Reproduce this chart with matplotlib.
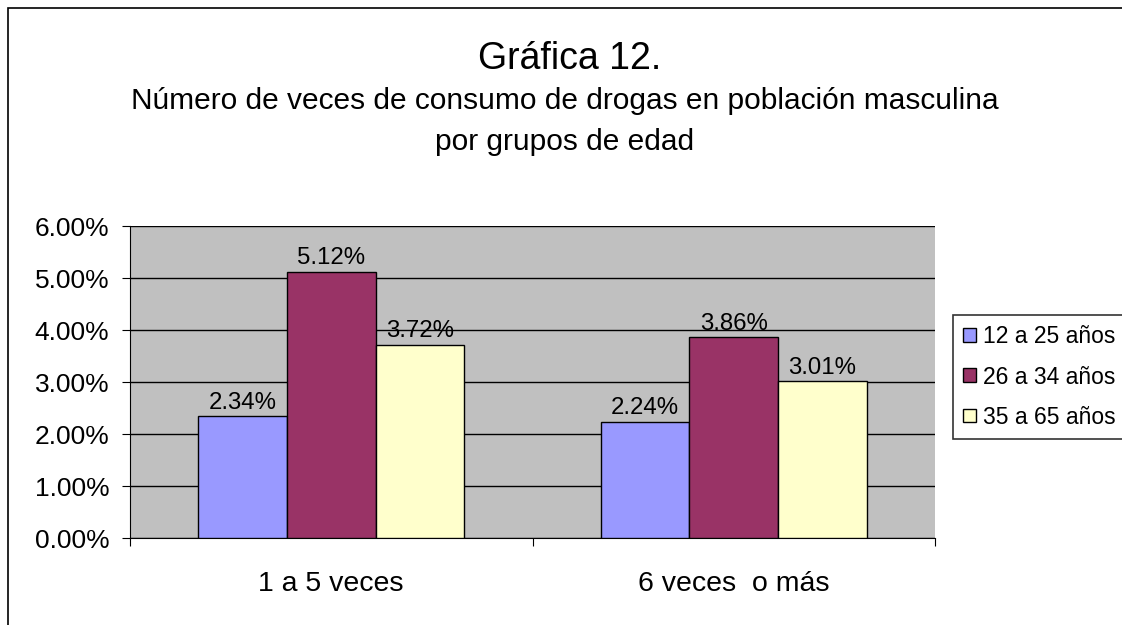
import matplotlib
matplotlib.use('Agg')
import matplotlib.pyplot as plt
import numpy as np

plt.rcParams['font.family'] = ['Liberation Sans', 'DejaVu Sans']

# data
categories = ['1 a 5 veces', '6 veces  o más']
series = ['12 a 25 años', '26 a 34 años', '35 a 65 años']
values = {
    '12 a 25 años': [2.34, 2.24],
    '26 a 34 años': [5.12, 3.86],
    '35 a 65 años': [3.72, 3.01],
}
colors = ['#9999FF', '#993366', '#FFFFCC']
yticks = [0, 1, 2, 3, 4, 5, 6]

fig = plt.figure(figsize=(11.22, 6.25), dpi=100)

# outer chart border (right/bottom edges fall off the picture)
fig.patches.append(plt.Rectangle((8 / 1122, -0.05), 1.2, (625 - 8) / 625 + 0.05,
                                 transform=fig.transFigure, fill=False,
                                 edgecolor='black', linewidth=1.2))

ax = fig.add_axes([130 / 1122, (625 - 538) / 625, 805 / 1122, 312 / 625])
ax.set_facecolor('#C0C0C0')

x = np.arange(len(categories))
width = 0.22
for i, (name, c) in enumerate(zip(series, colors)):
    pos = x + (i - 1) * width
    bars = ax.bar(pos, values[name], width, color=c, edgecolor='black',
                  linewidth=1.0, label=name, zorder=3)
    for b, v in zip(bars, values[name]):
        ax.text(b.get_x() + b.get_width() / 2, v + 0.05, f'{v:.2f}%',
                ha='center', va='bottom', fontsize=17.3, zorder=4)

ax.set_xlim(-0.5, 1.5)
ax.set_ylim(0, 6)
ax.set_yticks(yticks)
ax.set_yticklabels([f'{t:.2f}%' for t in yticks], fontsize=19)
ax.yaxis.grid(True, color='black', linewidth=1.0, zorder=1)
ax.set_axisbelow(True)

ax.set_xticks([-0.5, 0.5, 1.5], minor=False)
ax.set_xticklabels([])
ax.set_xticks(x, minor=True)
ax.set_xticklabels(categories, minor=True, fontsize=20.5)
ax.tick_params(axis='x', which='minor', length=0, pad=24)
ax.tick_params(axis='x', which='major', length=6, direction='out', color='black')
ax.tick_params(axis='y', length=6, direction='out', pad=9)

for s in ['top', 'right']:
    ax.spines[s].set_visible(False)
ax.spines['left'].set_color('black')
ax.spines['bottom'].set_color('black')

fig.text(0.508, 0.905, 'Gráfica 12.', ha='center', va='center', fontsize=27)
fig.text(0.503, 0.805, 'Número de veces de consumo de drogas en población masculina\npor grupos de edad',
         ha='center', va='center', fontsize=21.5, linespacing=1.6)

leg = ax.legend(loc='center left', bbox_to_anchor=(953 / 1122, 1 - 377 / 625),
                bbox_transform=fig.transFigure, fontsize=16.5, frameon=True,
                fancybox=False, edgecolor='black', handlelength=0.55,
                handleheight=0.55, handletextpad=0.3, borderpad=0.45,
                labelspacing=0.75, borderaxespad=0)
leg.get_frame().set_linewidth(1.2)

fig.savefig('out.png', dpi=100)
